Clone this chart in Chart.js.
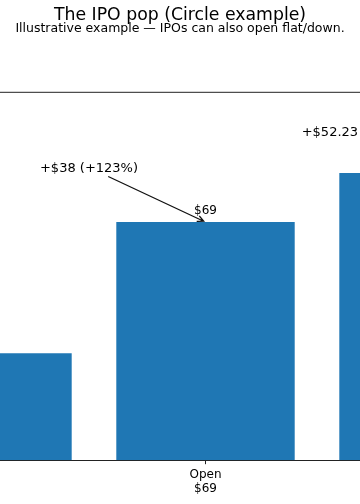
<!DOCTYPE html>
<html>
<head>
<meta charset="utf-8">
<script src="https://cdn.jsdelivr.net/npm/chart.js@4/dist/chart.umd.min.js"></script>
<style>
  html, body { margin: 0; padding: 0; background: #fff; }
  canvas { display: block; }
</style>
</head>
<body>
<canvas id="ipoChart" width="360" height="504"></canvas>
<script>
// chart values
const categories = [["IPO", "$31"], ["Open", "$69"], ["Close", "$83.23"]];
const prices = [31, 69, 83.23];
const barLabels = ["", "$69", ""];
const notes = ["+$38 (+123%)", "+$52.23"];

const ctx = document.getElementById("ipoChart").getContext("2d");
Chart.defaults.font.family = "'DejaVu Sans', sans-serif";
Chart.defaults.color = "#000";

// extra drawing: top spine, value label, annotations with arrow
const annotations = {
  id: "annotations",
  afterDatasetsDraw(chart) {
    const { ctx, chartArea, scales: { x, y } } = chart;
    ctx.save();

    // top spine
    ctx.strokeStyle = "#222";
    ctx.lineWidth = 1;
    ctx.beginPath();
    ctx.moveTo(chartArea.left, chartArea.top);
    ctx.lineTo(chartArea.right, chartArea.top);
    ctx.stroke();

    ctx.fillStyle = "#000";
    ctx.textBaseline = "alphabetic";

    // value on top of the bars
    ctx.font = "12px 'DejaVu Sans'";
    ctx.textAlign = "center";
    barLabels.forEach((lbl, i) => {
      if (!lbl) return;
      ctx.fillText(lbl, x.getPixelForValue(i), y.getPixelForValue(prices[i]) - 8.5);
    });

    // gain open vs IPO, arrow to the open bar
    ctx.font = "13px 'DejaVu Sans'";
    const tx = x.getPixelForValue(0.4776);
    const ty = y.getPixelForValue(83.43);
    ctx.fillText(notes[0], tx, ty);

    const cx = tx, cy = ty - 4.75;
    const px = x.getPixelForValue(1), py = y.getPixelForValue(prices[1]);
    const len = Math.hypot(px - cx, py - cy);
    const ux = (px - cx) / len, uy = (py - cy) / len;
    const k = 9 / uy;
    const sx = cx + ux * k, sy = cy + uy * k;
    const ex = px - ux * 2, ey = py - uy * 2;
    ctx.strokeStyle = "#111";
    ctx.lineWidth = 1.3;
    ctx.beginPath();
    ctx.moveTo(sx, sy);
    ctx.lineTo(ex, ey);
    const ang = Math.atan2(uy, ux);
    const head = 7;
    ctx.moveTo(ex - head * Math.cos(ang - 0.45), ey - head * Math.sin(ang - 0.45));
    ctx.lineTo(ex, ey);
    ctx.lineTo(ex - head * Math.cos(ang + 0.45), ey - head * Math.sin(ang + 0.45));
    ctx.stroke();

    // gain close vs IPO
    ctx.textAlign = "left";
    ctx.fillText(notes[1], x.getPixelForValue(1.4314), y.getPixelForValue(94.0));

    ctx.restore();
  }
};

new Chart(ctx, {
  type: "bar",
  data: {
    datasets: [{
      data: prices.map((v, i) => ({ x: i, y: v })),
      backgroundColor: "#1f77b4",
      borderWidth: 0,
      barPercentage: 0.8,
      categoryPercentage: 1.0
    }]
  },
  options: {
    responsive: false,
    animation: false,
    devicePixelRatio: 1,
    layout: { padding: { top: 0, left: 0, right: 0, bottom: 5 } },
    plugins: {
      legend: { display: false },
      tooltip: { enabled: false },
      title: {
        display: true,
        text: "The IPO pop (Circle example)",
        color: "#000",
        font: { size: 17.3, weight: "normal", lineHeight: 1 },
        padding: { top: 7, bottom: 0 }
      },
      subtitle: {
        display: true,
        text: "Illustrative example \u2014 IPOs can also open flat/down.",
        color: "#000",
        font: { size: 12.5, lineHeight: 1 },
        padding: { top: -1.5, bottom: 57 }
      }
    },
    scales: {
      x: {
        type: "linear",
        offset: false,
        bounds: "data",
        min: 0.0785,
        max: 1.6928,
        afterBuildTicks(scale) {
          scale.ticks = categories
            .map((c, i) => ({ value: i }))
            .filter(t => t.value >= scale.min && t.value <= scale.max);
        },
        ticks: {
          font: { size: 12 },
          color: "#000",
          padding: 3,
          maxRotation: 0,
          callback: (value) => categories[value]
        },
        grid: {
          display: true,
          offset: false,
          drawOnChartArea: false,
          drawTicks: true,
          tickLength: 4,
          tickColor: "#222"
        },
        border: { display: true, color: "#222", width: 1 }
      },
      y: {
        display: false,
        min: 0,
        max: 106.6
      }
    }
  },
  plugins: [annotations]
});
</script>
</body>
</html>
